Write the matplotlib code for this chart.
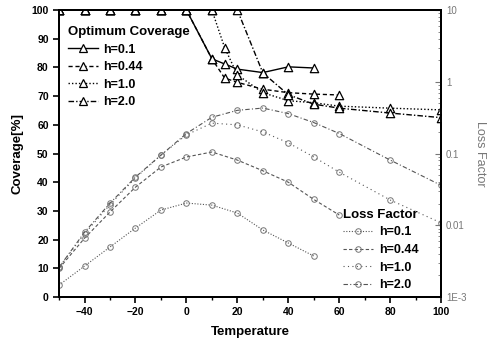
import numpy as np
import matplotlib
matplotlib.use("Agg")
import matplotlib.pyplot as plt
from matplotlib.lines import Line2D
from matplotlib.ticker import FixedLocator, FixedFormatter, LogLocator, NullFormatter

plt.rcParams['font.family'] = ['Liberation Sans', 'DejaVu Sans']

# optimum coverage [%] (left axis)
cov_x_01 = [-50, -40, -30, -20, -10, 0, 10, 15, 20, 30, 40, 50]
cov_y_01 = [100, 100, 100, 100, 100, 100, 83.0, 81.2, 79.4, 78.2, 80.2, 79.8]
cov_x_044 = [-50, -40, -30, -20, -10, 0, 10, 15, 20, 30, 40, 50, 60]
cov_y_044 = [100, 100, 100, 100, 100, 100, 83.0, 76.3, 74.8, 72.4, 71.2, 70.7, 70.4]
cov_x_10 = [-50, -40, -30, -20, -10, 0, 10, 15, 20, 30, 40, 50, 60, 80, 100]
cov_y_10 = [100, 100, 100, 100, 100, 100, 100, 86.9, 77.4, 71.2, 68.4, 67.7, 66.5, 65.8, 65.2]
cov_x_20 = [-50, -40, -30, -20, -10, 0, 10, 20, 30, 40, 50, 60, 80, 100]
cov_y_20 = [100, 100, 100, 100, 100, 100, 100, 100, 78.1, 70.5, 67.2, 65.8, 64.1, 62.5]

# loss factor (right axis, log)
lf_x_01 = [-50, -40, -30, -20, -10, 0, 10, 20, 30, 40, 50]
lf_y_01 = [0.00147, 0.0027, 0.00498, 0.00916, 0.0163, 0.0204, 0.0191, 0.0148, 0.0086, 0.00566, 0.00373]
lf_x_044 = [-50, -40, -30, -20, -10, 0, 10, 20, 30, 40, 50, 60]
lf_y_044 = [0.0025, 0.0066, 0.0153, 0.034, 0.0649, 0.0895, 0.105, 0.081, 0.0575, 0.0398, 0.0229, 0.0139]
lf_x_10 = [-50, -40, -30, -20, -10, 0, 10, 20, 30, 40, 50, 60, 80, 100]
lf_y_10 = [0.0026, 0.0076, 0.0194, 0.0457, 0.095, 0.182, 0.265, 0.251, 0.2, 0.141, 0.0895, 0.055, 0.0225, 0.0108]
lf_x_20 = [-50, -40, -30, -20, -10, 0, 10, 20, 30, 40, 50, 60, 80, 100]
lf_y_20 = [0.0026, 0.008, 0.0203, 0.047, 0.095, 0.19, 0.32, 0.40, 0.43, 0.36, 0.27, 0.19, 0.081, 0.036]

labels = ['h=0.1', 'h=0.44', 'h=1.0', 'h=2.0']
right_ticks = [1e-3, 1e-2, 1e-1, 1, 10]
right_labels = ['1E-3', '0.01', '0.1', '1', '10']

fig = plt.figure(figsize=(4.88, 3.45), dpi=100)
ax = fig.add_axes([0.121, 0.139, 0.783, 0.832])
ax2 = ax.twinx()

cov_series = [(cov_x_01, cov_y_01), (cov_x_044, cov_y_044),
              (cov_x_10, cov_y_10), (cov_x_20, cov_y_20)]
cov_styles = ['-', (0, (3, 2)), (0, (1, 1.5)), (0, (4, 1.5, 1, 1.5))]
cov_handles = []
for (xs, ys), ls, lab in zip(cov_series, cov_styles, labels):
    ax.plot(xs, ys, color='black', linewidth=1.0, linestyle=ls, zorder=2)
    # scatter so that markers on the top edge get clipped like the original
    ax.scatter(xs, ys, marker='^', s=36, facecolors='white', edgecolors='black',
               linewidths=0.9, zorder=3)
    cov_handles.append(Line2D([], [], color='black', linewidth=1.0, linestyle=ls,
                              marker='^', markersize=6, markerfacecolor='white',
                              markeredgecolor='black', markeredgewidth=0.9, label=lab))

lf_series = [(lf_x_01, lf_y_01), (lf_x_044, lf_y_044),
             (lf_x_10, lf_y_10), (lf_x_20, lf_y_20)]
lf_styles = [(0, (1, 1.5)), (0, (3, 2)), (0, (1, 3)), (0, (4, 2, 1, 2))]
lf_handles = []
for (xs, ys), ls, lab in zip(lf_series, lf_styles, labels):
    g, = ax2.plot(xs, ys, linestyle=ls, marker='o', markersize=4, markerfacecolor='none',
                  markeredgecolor='#777777', markeredgewidth=0.7, color='#555555',
                  linewidth=0.8, label=lab)
    lf_handles.append(g)

ax.set_xlim(-50, 100)
ax.set_ylim(0, 100)
ax.set_xticks([-40, -20, 0, 20, 40, 60, 80, 100])
ax.set_xticks(np.arange(-50, 101, 10), minor=True)
ax.set_yticks(np.arange(0, 101, 10))
ax.tick_params(axis='both', which='major', direction='out', length=4, width=1.2,
               labelsize=7.5)
ax.tick_params(axis='x', which='minor', direction='out', length=2.5, width=1)
for lab in ax.get_xticklabels() + ax.get_yticklabels():
    lab.set_fontweight('bold')
ax.set_xlabel('Temperature', fontsize=9.5, fontweight='bold', labelpad=6)
ax.set_ylabel('Coverage[%]', fontsize=9.5, fontweight='bold', labelpad=6)

ax2.set_yscale('log')
ax2.set_ylim(1e-3, 10)
ax2.yaxis.set_major_locator(FixedLocator(right_ticks))
ax2.yaxis.set_major_formatter(FixedFormatter(right_labels))
ax2.yaxis.set_minor_locator(LogLocator(base=10, subs=np.arange(2, 10)))
ax2.yaxis.set_minor_formatter(NullFormatter())
ax2.tick_params(axis='y', which='major', direction='in', length=4, width=0.8,
                labelsize=7, labelcolor='#777777', colors='#777777')
ax2.tick_params(axis='y', which='minor', direction='in', length=2, width=0.6, colors='#777777')
for lab in ax2.get_yticklabels():
    lab.set_color('#777777')
ax2.set_ylabel('Loss Factor', fontsize=9, color='#777777', rotation=270, labelpad=14)

for sp in ax.spines.values():
    sp.set_linewidth(1.4)
for sp in ax2.spines.values():
    sp.set_linewidth(1.4)

leg1 = ax2.legend(handles=cov_handles, title='Optimum Coverage', loc='upper left',
                  bbox_to_anchor=(0.0, 0.975), frameon=False, fontsize=9,
                  title_fontsize=9.5, handlelength=2.4, handletextpad=0.4,
                  labelspacing=0.45, borderaxespad=0.3, alignment='left')
for t in leg1.get_texts():
    t.set_fontweight('bold')
leg1.get_title().set_fontweight('bold')
ax2.add_artist(leg1)

leg2 = ax2.legend(handles=lf_handles, title='Loss Factor', loc='lower right',
                  bbox_to_anchor=(0.965, -0.01), frameon=False, fontsize=9,
                  title_fontsize=9.5, handlelength=2.4, handletextpad=0.5,
                  labelspacing=0.45, borderaxespad=0.3, alignment='left')
for t in leg2.get_texts():
    t.set_fontweight('bold')
leg2.get_title().set_fontweight('bold')

fig.savefig('out.png', dpi=100)
